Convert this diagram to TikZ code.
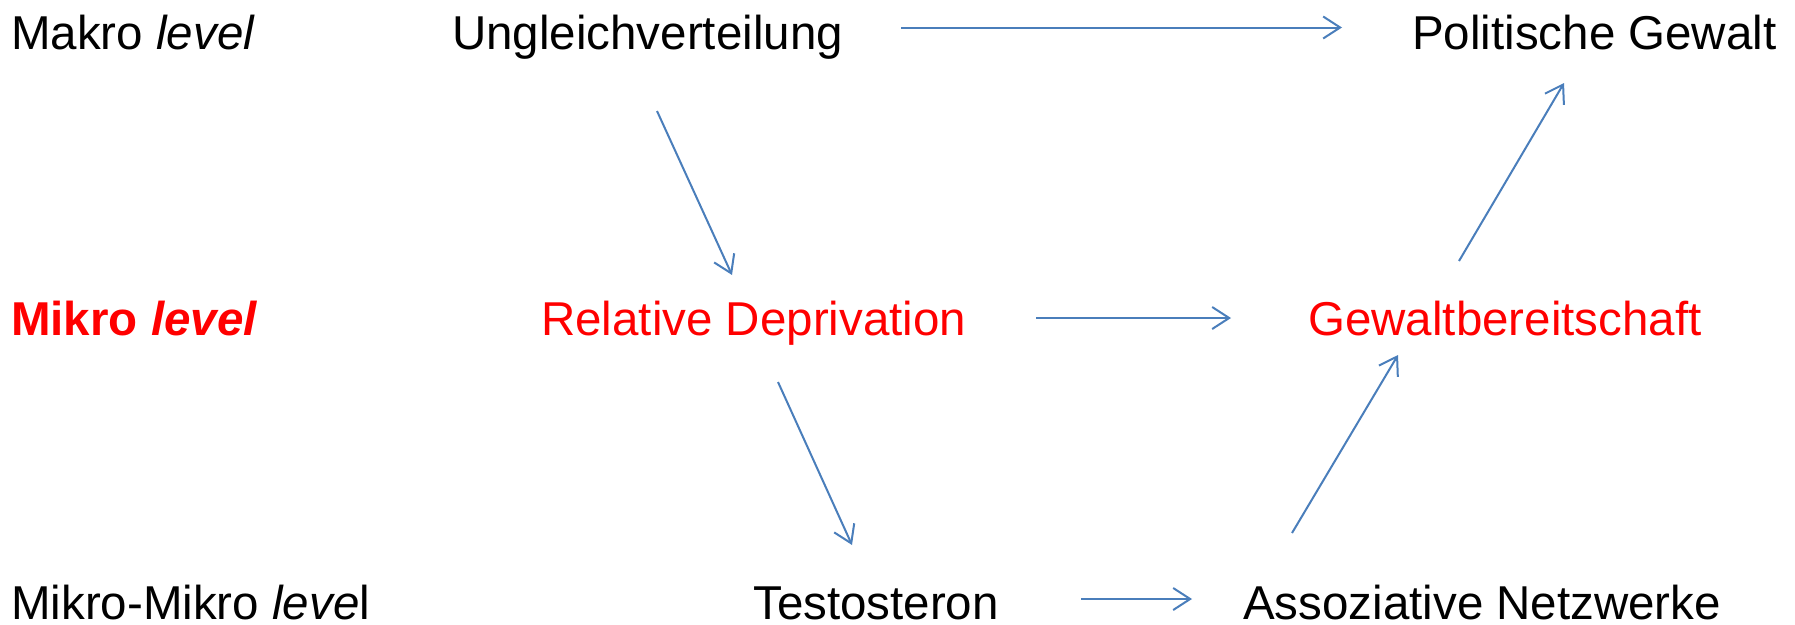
\documentclass[tikz,border=0pt]{standalone}
\usepackage{fontspec}
\setmainfont{Liberation Sans}
\usetikzlibrary{arrows.meta}
\definecolor{arrblue}{HTML}{4A7EBB}
\definecolor{lvred}{HTML}{FF0000}
\tikzset{
  lbl/.style={anchor=base west, inner sep=0pt, font=\fontsize{47.5}{57}\selectfont},
  redlbl/.style={lbl, text=lvred},
  botlbl/.style={lbl, text depth=0pt},
  arr/.style={draw=arrblue, line width=2pt, -{Straight Barb[length=17pt,width=22pt,line width=2pt]}}
}
\begin{document}
\begin{tikzpicture}[x=1pt,y=-1pt]
\useasboundingbox (0,0) rectangle (1795,624);
% row labels
\node[lbl] (makro) at (11,49) {Makro \textit{level}};
\node[redlbl] (mikro) at (11,335) {\textbf{Mikro \textit{level}}};
\node[botlbl] (mm) at (11,619) {Mikro-Mikro \textit{leve}l};
% nodes
\node[lbl] (ungl) at (452,49) {Ungleichverteilung};
\node[lbl] (pol) at (1412,49) {Politische Gewalt};
\node[redlbl] (rd) at (541,335) {Relative Deprivation};
\node[redlbl] (gb) at (1308,335) {Gewaltbereitschaft};
\node[botlbl] (tes) at (753,619) {Testosteron};
\node[botlbl] (asn) at (1243,619) {Assoziative Netzwerke};
% connector ends
\coordinate (a1s) at (901,27.5);  \coordinate (a1e) at (1342,27.5);
\coordinate (a2s) at (657,111);   \coordinate (a2e) at (732,275);
\coordinate (a3s) at (1036,318);  \coordinate (a3e) at (1231,318);
\coordinate (a4s) at (1459,261);  \coordinate (a4e) at (1564,83);
\coordinate (a5s) at (778,382);   \coordinate (a5e) at (852,545);
\coordinate (a6s) at (1081,599);  \coordinate (a6e) at (1192,599);
\coordinate (a7s) at (1292,533);  \coordinate (a7e) at (1398,355);
\draw[arr] (a1s) -- (a1e);
\draw[arr] (a2s) -- (a2e);
\draw[arr] (a3s) -- (a3e);
\draw[arr] (a4s) -- (a4e);
\draw[arr] (a5s) -- (a5e);
\draw[arr] (a6s) -- (a6e);
\draw[arr] (a7s) -- (a7e);
\end{tikzpicture}
\end{document}
